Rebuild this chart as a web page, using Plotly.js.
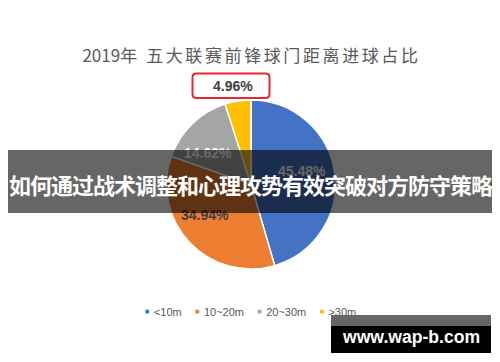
<!DOCTYPE html>
<html><head><meta charset="utf-8">
<script src="https://cdn.plot.ly/plotly-3.0.1.min.js"></script>
<style>html,body{margin:0;padding:0;background:#fff;overflow:hidden;} #chart{width:500px;height:362px;}</style>
</head><body><div id="chart"></div>
<script>
// ---- data ----
const categories = ['<10m', '10~20m', '20~30m', '>30m'];
const shares = [45.48, 34.94, 14.62, 4.96];
const sliceColors = ['#4472C4', '#ED7D31', '#A5A5A5', '#FFC000'];
const labelColors = ['#FFFFFF', '#404040', '#FFFFFF', '#404040'];
const chartTitle = '2019年 五大联赛前锋球门距离进球占比';
const bannerText = '如何通过战术调整和心理攻势有效突破对方防守策略';
const watermarkText = 'www.wap-b.com';

// ---- layout helpers ----
const W = 500, H = 362, M = {l: 2, r: 0, t: 100, b: 93};
const pw = W - M.l - M.r, ph = H - M.t - M.b;
const px = x => (x - M.l) / pw;
const py = y => (H - M.b - y) / ph;
const labelPos = [[302, 171], [205, 214.5], [208, 152.5], [233, 86.5]];

function roundRect(x0, y0, x1, y1, r) {
  const P = (x, y) => px(x).toFixed(5) + ' ' + py(y).toFixed(5);
  return `M ${P(x0 + r, y0)} L ${P(x1 - r, y0)} Q ${P(x1, y0)} ${P(x1, y0 + r)} L ${P(x1, y1 - r)} Q ${P(x1, y1)} ${P(x1 - r, y1)} L ${P(x0 + r, y1)} Q ${P(x0, y1)} ${P(x0, y1 - r)} L ${P(x0, y0 + r)} Q ${P(x0, y0)} ${P(x0 + r, y0)} Z`;
}

const trace = {
  type: 'pie',
  labels: categories,
  values: shares,
  sort: false,
  direction: 'clockwise',
  rotation: 0,
  marker: {colors: sliceColors, line: {color: '#FFFFFF', width: 1.5}},
  textinfo: 'none',
  hoverinfo: 'skip'
};

const labelFont = {family: 'Liberation Sans, Arial, sans-serif', size: 14, weight: 'bold'};
const annotations = shares.map((v, i) => ({
  xref: 'paper', yref: 'paper', x: px(labelPos[i][0]), y: py(labelPos[i][1]),
  xanchor: 'center', yanchor: 'middle', showarrow: false,
  text: v.toFixed(2) + '%',
  font: Object.assign({}, labelFont, {color: labelColors[i]})
}));

// banner: translucent band over the pie and its labels, then its text
annotations.push({
  xref: 'paper', yref: 'paper', x: px(250), y: py(181.25), xanchor: 'center', yanchor: 'middle',
  showarrow: false, text: '\u00a0', font: {size: 1}, width: 484, height: 62.5,
  bgcolor: 'rgba(0,0,0,0.6)', borderpad: 0, borderwidth: 0
});
annotations.push({
  xref: 'paper', yref: 'paper', x: px(250.5), y: py(183.8), xanchor: 'center', yanchor: 'middle',
  showarrow: false,
  text: '<span style="letter-spacing:-1px">' + bannerText + '</span>',
  font: {family: 'Noto Sans CJK SC, sans-serif', size: 22, weight: 'bold', color: '#FFFFFF'}
});
// watermark: gray band, black box, text
annotations.push({
  xref: 'paper', yref: 'paper', x: px(411), y: py(320.4), xanchor: 'center', yanchor: 'middle',
  showarrow: false, text: '\u00a0', font: {size: 1}, width: 160, height: 11,
  bgcolor: '#666666', borderpad: 0, borderwidth: 0
});
annotations.push({
  xref: 'paper', yref: 'paper', x: px(411), y: py(339), xanchor: 'center', yanchor: 'middle',
  showarrow: false, text: '\u00a0', font: {size: 1}, width: 160, height: 27,
  bgcolor: '#000000', borderpad: 0, borderwidth: 0
});
annotations.push({
  xref: 'paper', yref: 'paper', x: px(410.5), y: py(337), xanchor: 'center', yanchor: 'middle',
  showarrow: false, text: watermarkText,
  font: {family: 'Liberation Sans, Arial, sans-serif', size: 17.6, weight: 'bold', color: '#FFFFFF'}
});

const titleHtml = chartTitle.replace(/^(\d+)(.*)$/, '$1<span style="letter-spacing:2.6px">$2</span>');

const layout = {
  width: W, height: H,
  margin: M,
  paper_bgcolor: '#FFFFFF', plot_bgcolor: '#FFFFFF',
  title: {
    text: titleHtml, x: 0.503, xref: 'container', xanchor: 'center',
    y: 1 - 56 / H, yref: 'container', yanchor: 'middle',
    font: {family: 'Noto Sans CJK SC, sans-serif', size: 17, color: '#595959'}
  },
  showlegend: true,
  legend: {
    orientation: 'h', x: 0.5, xanchor: 'center', xref: 'container',
    y: 1 - 303 / H, yref: 'container', yanchor: 'top',
    font: {family: 'Liberation Sans, Arial, sans-serif', size: 11, color: '#595959'},
    bgcolor: 'rgba(0,0,0,0)', itemwidth: 30, traceorder: 'normal'
  },
  shapes: [
    {type: 'path', xref: 'paper', yref: 'paper', layer: 'above',
     path: roundRect(192.5, 73.5, 269.5, 98, 4),
     fillcolor: 'rgba(0,0,0,0)', line: {color: '#E8262B', width: 2}}
  ],
  annotations: annotations
};

function tightenLegend(gd) {
  const leg = gd.querySelector('g.legend');
  if (!leg) return;
  const items = Array.from(leg.querySelectorAll('g.traces'));
  const half = 2.6, textX = 9.2, gap = 13;
  const re = /translate\(\s*([-\d.e]+)[ ,]+([-\d.e]+)\s*\)/;
  let x = 0;
  items.forEach(it => {
    const p = it.querySelector('path.legendpie');
    if (p) {
      p.setAttribute('d', `M${half},${half}H-${half}V-${half}H${half}Z`);
      p.setAttribute('transform', `translate(${half},0)`);
    }
    const t = it.querySelector('text.legendtext');
    if (t) {
      t.setAttribute('x', textX);
      t.querySelectorAll('tspan').forEach(s => { if (s.hasAttribute('x')) s.setAttribute('x', textX); });
    }
    const m = re.exec(it.getAttribute('transform') || '');
    const y = m ? +m[2] : 0;
    it.setAttribute('transform', `translate(${x},${y})`);
    x += textX + (t ? t.getComputedTextLength() : 0) + gap;
  });
  const first = items[0] && items[0].querySelector('path.legendpie');
  if (!first) return;
  const b = first.getBoundingClientRect();
  const cx = b.left + b.width / 2, cy = b.top + b.height / 2;
  const lm = re.exec(leg.getAttribute('transform') || '');
  const lx = lm ? +lm[1] : 0, ly = lm ? +lm[2] : 0;
  leg.setAttribute('transform', `translate(${lx + 147.3 - cx},${ly + 311.7 - cy})`);
}

const gd = document.getElementById('chart');
Plotly.newPlot(gd, [trace], layout, {displayModeBar: false, staticPlot: true})
  .then(() => tightenLegend(gd));
</script>
</body></html>
